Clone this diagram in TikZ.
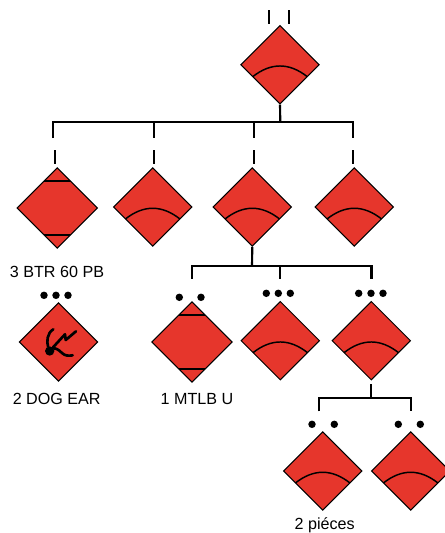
\documentclass[tikz,border=0pt]{standalone}
\usepackage{fontspec}
\setmainfont{Liberation Sans}
\usetikzlibrary{shapes.geometric}
\tikzset{
  unit/.style={diamond,draw=black,fill=unitred,line width=0.75pt,inner sep=0pt,minimum width=59pt,minimum height=59pt},
  armor/.style={unit,path picture={
    \draw[line width=1.1pt] ([shift={(-27.3,12)}]path picture bounding box.center)
      .. controls ([shift={(-9.1,-2.3)}]path picture bounding box.center) and ([shift={(9.1,-2.3)}]path picture bounding box.center)
      .. ([shift={(27.3,12)}]path picture bounding box.center);}},
  track/.style={unit,minimum width=60.5pt,minimum height=60.5pt,path picture={
    \draw[line width=1pt] ([shift={(-20,-27)}]path picture bounding box.center) -- ([shift={(20,-27)}]path picture bounding box.center);
    \draw[line width=1pt] ([shift={(-20,27)}]path picture bounding box.center) -- ([shift={(20,27)}]path picture bounding box.center);}},
  dot/.style={circle,fill=black,inner sep=0pt,minimum size=5.6pt},
  lbl/.style={font=\fontsize{12.1}{14}\selectfont,inner sep=0pt},
  link/.style={line width=1.6pt}
}
\definecolor{unitred}{RGB}{230,54,44}
\begin{document}
\begin{tikzpicture}[x=0.75pt,y=-0.75pt]
  \useasboundingbox (0,0) rectangle (444,533);
  \draw
    (280,64.7) node[armor] (hq){}
    (57.3,208) node[track] (btr){}
    (152.7,207) node[armor] (a1){}
    (252.3,207) node[armor] (a2){}
    (354.3,207) node[armor] (a3){}
    (58.5,342) node[unit] (dog){}
    (192,342) node[track] (mtlb){}
    (280.3,340.7) node[armor] (b1){}
    (371.3,340.7) node[armor] (b2){}
    (322.7,471) node[armor] (c1){}
    (410.7,471) node[armor] (c2){};
  \draw
    (269.3,10) coordinate (t1) (269.3,24) coordinate (t2)
    (288.7,10) coordinate (t3) (288.7,24) coordinate (t4)
    (280.3,122.3) coordinate (hqbar)
    (53.3,122.3) coordinate (bar0)
    (154,122.3) coordinate (bar1)
    (253.7,122.3) coordinate (bar2)
    (353,122.3) coordinate (bar3)
    (53.3,138) coordinate (d0)
    (154,138) coordinate (d1)
    (253.7,138) coordinate (d2)
    (353,138) coordinate (d3)
    (55.3,150) coordinate (e0) (55.3,163.7) coordinate (f0)
    (154,150) coordinate (e1) (154,163.7) coordinate (f1)
    (254.3,150) coordinate (e2) (254.3,163.7) coordinate (f2)
    (353,150) coordinate (e3) (353,163.7) coordinate (f3)
    (252,266) coordinate (a2bar)
    (191.6,266) coordinate (g0)
    (280.3,266) coordinate (g1)
    (371.5,266) coordinate (g2)
    (191.6,278.7) coordinate (h0)
    (280.3,278.7) coordinate (h1)
    (371.5,278.7) coordinate (h2)
    (371.3,384.3) coordinate (b2top)
    (371.3,398) coordinate (b2bar)
    (319.3,398) coordinate (k0)
    (410.7,398) coordinate (k1)
    (319.3,411.3) coordinate (m0)
    (410.7,411.3) coordinate (m1);
  \begin{scope}[link]
    \draw (t1) to (t2);
    \draw (t3) to (t4);
    \draw (hq.south) to (hqbar);
    \draw (d0) to (bar0) to (bar3) to (d3);
    \draw (bar1) to (d1);
    \draw (bar2) to (d2);
    \draw (e0) to (f0);
    \draw (e1) to (f1);
    \draw (e2) to (f2);
    \draw (e3) to (f3);
    \draw (a2.south) to (a2bar);
    \draw (h0) to (g0) to (g2) to (h2);
    \draw (g1) to (h1);
    \draw (b2top) to (b2bar);
    \draw (m0) to (k0) to (k1) to (m1);
  \end{scope}
  \draw
    (44,295.3) node[dot] (dd1){}
    (56,295.3) node[dot] (dd2){}
    (68,295.3) node[dot] (dd3){}
    (179.3,297.3) node[dot] (md1){}
    (201,297.3) node[dot] (md2){}
    (266.3,293.3) node[dot] (bd1){}
    (278.3,293.3) node[dot] (bd2){}
    (290.3,293.3) node[dot] (bd3){}
    (358.7,293.3) node[dot] (bd4){}
    (371,293.3) node[dot] (bd5){}
    (383,293.3) node[dot] (bd6){}
    (312,424.3) node[dot] (cd1){}
    (334.3,424.3) node[dot] (cd2){}
    (398.3,424.3) node[dot] (cd3){}
    (420.3,424.3) node[dot] (cd4){};
  \draw
    (57,272) node[lbl] (btrlbl){3 BTR 60 PB}
    (56.7,399.3) node[lbl] (doglbl){2 DOG EAR}
    (197,399.3) node[lbl] (mtlblbl){1 MTLB U}
    (324.7,525) node[lbl] (clbl){2 piéces};
  \node[dot,minimum size=7pt] (dogdot) at (49.7,351) {};
  \draw[line width=2pt,line cap=round,line join=round]
    (dogdot) .. controls (46.5,342) and (47,333) .. (53.3,329.3)
    (dogdot) -- (65,334.3) -- (65.7,340) -- (76,331.3)
    (dogdot) .. controls (55,348) and (58,349) .. (62,353) .. controls (65,356) and (69,356) .. (72.7,355.3);
\end{tikzpicture}
\end{document}
